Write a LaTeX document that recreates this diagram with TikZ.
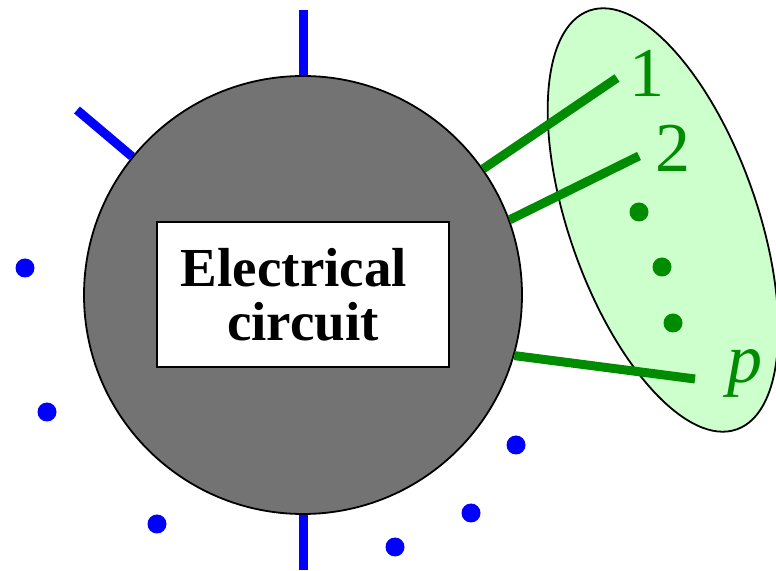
\documentclass[tikz,border=0pt]{standalone}
\usepackage{fontspec}
\setmainfont{Liberation Serif}
\definecolor{circgray}{RGB}{115,115,115}
\definecolor{pgreen}{RGB}{0,140,0}
\definecolor{lgreen}{RGB}{204,255,204}
\tikzset{
  blueline/.style={draw=blue,line width=9pt},
  greenline/.style={draw=pgreen,line width=9pt},
  bluedot/.style={circle,fill=blue,inner sep=0pt,minimum size=19pt},
  greendot/.style={circle,fill=pgreen,inner sep=0pt,minimum size=19pt},
  lbl/.style={text=pgreen,font=\fontsize{70}{80}\selectfont,inner sep=0pt},
}
\begin{document}
\begin{tikzpicture}[x=1pt,y=1pt]
\useasboundingbox (0,0) rectangle (776,570);
% port ellipse
\draw[fill=lgreen,line width=1.8pt] (663,350) ellipse [x radius=222, y radius=94, rotate=-70.6];
% circuit disk
\node[circle,draw=black,line width=1.8pt,fill=circgray,minimum size=438pt,inner sep=0pt] (C) at (303,275) {};
\node[draw=black,line width=1.8pt,fill=white,minimum width=292pt,minimum height=145pt,inner sep=0pt,
  align=center,font=\bfseries\fontsize{55}{54}\selectfont] (B) at (303,275.5) {\raisebox{-3pt}{Electrical}\hspace*{0.33em}\\\raisebox{-3pt}{circuit}};
% blue terminals
\coordinate (T1) at (303,560);
\coordinate (T2) at (303,0);
\coordinate (T3) at (77,460);
\draw[blueline] (C.north) -- (T1);
\draw[blueline] (C.south) -- (T2);
\draw[blueline] (C.141) -- (T3);
% green port terminals
\coordinate (P1) at (617,492);
\coordinate (P2) at (639,414);
\coordinate (Pp) at (695,191);
\draw[greenline] (C.35.8) -- (P1);
\draw[greenline] (C.20.2) -- (P2);
\draw[greenline] (C.-16) -- (Pp);
\node[lbl] (L1) at (647,497) {1};
\node[lbl] (L2) at (673,422) {2};
\node[lbl] (Lp) at (745,197) {\textit{p}};
% green dots
\node[greendot] (g1) at (639,358) {};
\node[greendot] (g2) at (662,303) {};
\node[greendot] (g3) at (673,247) {};
% blue dots
\node[bluedot] (b1) at (25,302) {};
\node[bluedot] (b2) at (47,158) {};
\node[bluedot] (b3) at (157,46) {};
\node[bluedot] (b4) at (395,23) {};
\node[bluedot] (b5) at (471,57) {};
\node[bluedot] (b6) at (516,125) {};
\end{tikzpicture}
\end{document}
